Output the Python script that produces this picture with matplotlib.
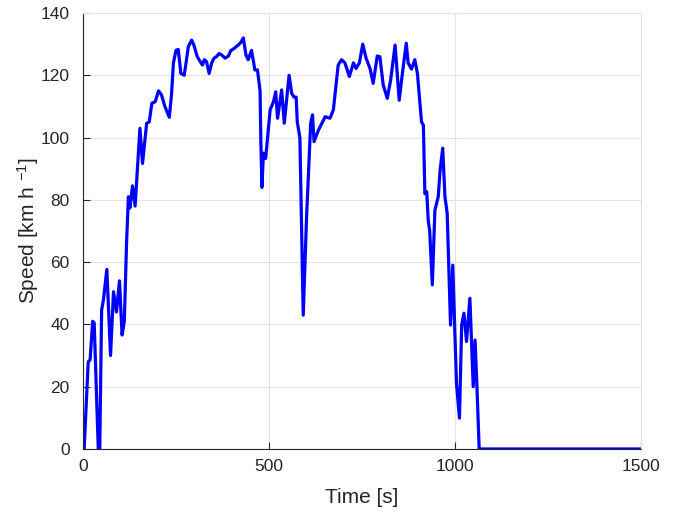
import matplotlib
matplotlib.use("Agg")
import matplotlib.pyplot as plt

plt.rcParams['font.family'] = ['Liberation Sans', 'DejaVu Sans']
plt.rcParams['mathtext.default'] = 'regular'

# Zeit [s] und Geschwindigkeit [km/h]
time_s = [0, 3, 14, 19, 26, 30, 41, 45, 50, 55, 64, 74, 82, 90, 98, 105, 111,
          117, 122, 126, 133, 140, 153, 160, 171, 178, 185, 194, 203, 211, 220,
          232, 238, 243, 250, 256, 263, 272, 277, 283, 292, 298, 307, 315, 321,
          326, 332, 339, 346, 352, 359, 366, 373, 382, 391, 397, 406, 417, 424,
          431, 438, 444, 453, 458, 462, 469, 476, 478, 481, 485, 491, 503, 512,
          518, 523, 534, 541, 554, 561, 567, 573, 576, 583, 592, 601, 612, 617,
          621, 633, 651, 664, 673, 686, 695, 704, 716, 727, 734, 743, 752, 761,
          772, 780, 791, 798, 807, 818, 827, 839, 850, 859, 869, 874, 883, 892,
          899, 910, 915, 919, 924, 928, 932, 939, 946, 955, 960, 967, 973, 979,
          988, 994, 1004, 1012, 1018, 1024, 1031, 1040, 1049, 1054, 1059, 1065,
          1500]
speed_kmh = [0, 0, 28, 28.6, 41, 40.5, 0, 0, 44.6, 48, 57.7, 30, 50.5, 44, 54,
             36.6, 41, 66, 81, 77.4, 84.5, 78, 103, 91.7, 104.6, 105, 111,
             111.5, 115, 113.7, 110, 106.5, 114, 124, 128, 128.3, 120.6, 120,
             124, 129.2, 131.3, 129.7, 126, 124.4, 123.3, 125, 124.4, 120.6, 124,
             125.5, 126, 127, 126.5, 125.5, 126.2, 127.9, 128.6, 129.7, 130.5,
             132, 126.5, 125, 128, 124.4, 121.7, 121.7, 115, 99, 84, 95, 93.3,
             108.9, 111.5, 114.7, 106.2, 115.3, 104.6, 120, 114.2, 113, 113, 105,
             100, 43, 74.6, 104.6, 107.3, 98.7, 102.4, 106.7, 106.2, 108.9,
             123.3, 125, 124, 119.6, 124, 122.2, 124, 130, 125.5, 122, 117.4,
             126.2, 126, 116.9, 112.6, 118.5, 129.7, 112, 121, 130.3, 124, 122,
             125, 120.6, 105, 104, 82, 82.6, 73.5, 70, 52.7, 76.7, 81, 89.6,
             96.6, 81, 75.7, 39.8, 59, 21, 9.9, 39.8, 43.6, 34.5, 48.4, 20, 35,
             20, 0, 0]

x_ticks = [0, 500, 1000, 1500]
y_ticks = [0, 20, 40, 60, 80, 100, 120, 140]

fig = plt.figure(figsize=(6.89, 5.14), dpi=100)
ax = fig.add_axes([0.1205, 0.1265, 0.8098, 0.8482])

ax.plot(time_s, speed_kmh, color='#0000ff', linewidth=2.3)

ax.set_xlim(0, 1500)
ax.set_ylim(0, 140)
ax.set_xticks(x_ticks)
ax.set_yticks(y_ticks)
ax.grid(True, color='#e3e3e3', linewidth=0.8)
ax.set_axisbelow(True)

for side in ['left', 'bottom']:
    ax.spines[side].set_color('#262626')
    ax.spines[side].set_linewidth(0.8)
for side in ['top', 'right']:
    ax.spines[side].set_color('#e3e3e3')
    ax.spines[side].set_linewidth(0.8)

ax.tick_params(direction='in', length=5, width=0.8, color='#262626',
               labelsize=12.5, labelcolor='#262626', top=False, right=False)
ax.tick_params(axis='x', pad=7)
ax.tick_params(axis='y', pad=9.5)

ax.set_xlabel('Time [s]', fontsize=15, color='#262626', labelpad=10)
ax.set_ylabel('Speed [km h $^{-1}$]', fontsize=15, color='#262626', labelpad=0)

fig.savefig('out.png', dpi=100)
